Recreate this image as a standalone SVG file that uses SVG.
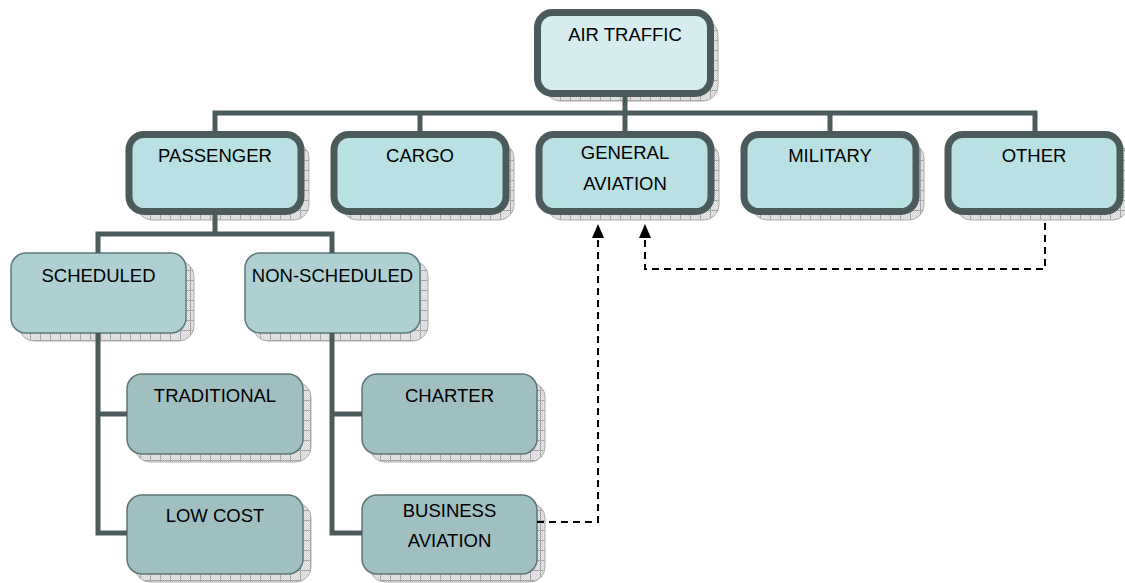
<svg xmlns="http://www.w3.org/2000/svg" width="1125" height="583" viewBox="0 0 1125 583">
  <defs>
    <!-- dithered grey shadow with a light grid -->
    <pattern id="shadowGrid" width="10" height="10" patternUnits="userSpaceOnUse">
      <rect width="10" height="10" fill="#d2d2d2"/>
      <path d="M0 0h1v1h-1zM2 0h1v1h-1zM4 0h1v1h-1zM6 0h1v1h-1zM8 0h1v1h-1zM1 1h1v1h-1zM3 1h1v1h-1zM5 1h1v1h-1zM7 1h1v1h-1zM9 1h1v1h-1z" fill="#ececec"/>
      <path d="M0 2h1v1h-1zM2 2h1v1h-1zM4 2h1v1h-1zM6 2h1v1h-1zM8 2h1v1h-1zM1 3h1v1h-1zM3 3h1v1h-1zM5 3h1v1h-1zM7 3h1v1h-1zM9 3h1v1h-1z" fill="#ececec"/>
      <path d="M0 4h1v1h-1zM2 4h1v1h-1zM4 4h1v1h-1zM6 4h1v1h-1zM8 4h1v1h-1zM1 5h1v1h-1zM3 5h1v1h-1zM5 5h1v1h-1zM7 5h1v1h-1zM9 5h1v1h-1z" fill="#ececec"/>
      <path d="M0 6h1v1h-1zM2 6h1v1h-1zM4 6h1v1h-1zM6 6h1v1h-1zM8 6h1v1h-1zM1 7h1v1h-1zM3 7h1v1h-1zM5 7h1v1h-1zM7 7h1v1h-1zM9 7h1v1h-1z" fill="#ececec"/>
      <path d="M0 8h1v1h-1zM2 8h1v1h-1zM4 8h1v1h-1zM6 8h1v1h-1zM8 8h1v1h-1zM1 9h1v1h-1zM3 9h1v1h-1zM5 9h1v1h-1zM7 9h1v1h-1zM9 9h1v1h-1z" fill="#ececec"/>
      <path d="M0 0.5H10M0.5 0V10" stroke="#a4a4a4" stroke-width="1"/>
    </pattern>
    <!-- solid arrowhead, tip on the end of the path -->
    <marker id="arrowHead" viewBox="0 0 14 12" refX="14" refY="6" markerWidth="14" markerHeight="12" markerUnits="userSpaceOnUse" orient="auto">
      <path d="M0 0L14 6L0 12Z" fill="#000"/>
    </marker>
    <style>
      .shadow { fill: url(#shadowGrid); stroke: #acacac; stroke-width: 1; }
      .top { fill: #d7ecee; stroke: #4b5a5a; stroke-width: 7; }
      .lvl1 { fill: #b9e0e3; stroke: #4b5a5a; stroke-width: 7; }
      .lvl2 { fill: #aed0d3; stroke: #5d7a7b; stroke-width: 1.5; }
      .lvl3 { fill: #a0bfc1; stroke: #5d7576; stroke-width: 1.5; }
      .link { fill: none; stroke: #4b5a5a; stroke-width: 5; stroke-linejoin: miter; stroke-linecap: butt; }
      .ref { fill: none; stroke: #000; stroke-width: 2; stroke-dasharray: 7 5; }
      text { font-family: "Liberation Sans", Arial, sans-serif; font-size: 18.5px; fill: #000; text-anchor: middle; }
    </style>
  </defs>

  <rect width="1125" height="583" fill="#fff"/>

  <g id="air-traffic">
    <rect class="shadow" x="545" y="20" width="173" height="81" rx="15"/>
    <rect class="top" x="537.5" y="12.5" width="173" height="81" rx="15"/>
    <text x="625" y="41">AIR TRAFFIC</text>
  </g>

  <g id="passenger">
    <rect class="shadow" x="137" y="143" width="172" height="77" rx="15"/>
    <rect class="lvl1" x="129" y="134.5" width="172" height="77" rx="15"/>
    <text x="215" y="162">PASSENGER</text>
  </g>

  <g id="cargo">
    <rect class="shadow" x="342" y="143" width="172" height="77" rx="15"/>
    <rect class="lvl1" x="334" y="134.5" width="172" height="77" rx="15"/>
    <text x="420" y="162">CARGO</text>
  </g>

  <g id="general-aviation">
    <rect class="shadow" x="547" y="143" width="172" height="77" rx="15"/>
    <rect class="lvl1" x="539" y="134.5" width="172" height="77" rx="15"/>
    <text x="625" y="159">GENERAL</text>
    <text x="625" y="190">AVIATION</text>
  </g>

  <g id="military">
    <rect class="shadow" x="752" y="143" width="172" height="77" rx="15"/>
    <rect class="lvl1" x="744" y="134.5" width="172" height="77" rx="15"/>
    <text x="830" y="162">MILITARY</text>
  </g>

  <g id="other">
    <rect class="shadow" x="956" y="143" width="172" height="77" rx="15"/>
    <rect class="lvl1" x="948" y="134.5" width="172" height="77" rx="15"/>
    <text x="1034" y="162">OTHER</text>
  </g>

  <g id="scheduled">
    <rect class="shadow" x="19" y="261" width="175" height="80" rx="15"/>
    <rect class="lvl2" x="11" y="253" width="175" height="80" rx="15"/>
    <text x="98.5" y="282">SCHEDULED</text>
  </g>

  <g id="non-scheduled">
    <rect class="shadow" x="253" y="261" width="175" height="80" rx="15"/>
    <rect class="lvl2" x="245" y="253" width="175" height="80" rx="15"/>
    <text x="332.5" y="282">NON-SCHEDULED</text>
  </g>

  <g id="traditional">
    <rect class="shadow" x="135" y="382" width="176" height="80" rx="15"/>
    <rect class="lvl3" x="127" y="374" width="176" height="80" rx="15"/>
    <text x="215" y="402">TRADITIONAL</text>
  </g>

  <g id="low-cost">
    <rect class="shadow" x="135" y="503" width="176" height="79" rx="15"/>
    <rect class="lvl3" x="127" y="495" width="176" height="79" rx="15"/>
    <text x="215" y="522">LOW COST</text>
  </g>

  <g id="charter">
    <rect class="shadow" x="370" y="382" width="175" height="80" rx="15"/>
    <rect class="lvl3" x="362" y="374" width="175" height="80" rx="15"/>
    <text x="449.5" y="402">CHARTER</text>
  </g>

  <g id="business-aviation">
    <rect class="shadow" x="370" y="503" width="175" height="79" rx="15"/>
    <rect class="lvl3" x="362" y="495" width="175" height="79" rx="15"/>
    <text x="449.5" y="517">BUSINESS</text>
    <text x="449.5" y="547">AVIATION</text>
  </g>

  <!-- tree connectors, drawn over the drop shadows -->
  <g id="connectors">
    <path class="link" d="M625 97V113"/>
    <path class="link" d="M215 131V113H1035V131"/>
    <path class="link" d="M420 113V131"/>
    <path class="link" d="M625 113V131"/>
    <path class="link" d="M830 113V131"/>
    <path class="link" d="M215 215V234"/>
    <path class="link" d="M98 253V234H332V253"/>
    <path class="link" d="M98 333V533H127"/>
    <path class="link" d="M98 414H127"/>
    <path class="link" d="M332 333V533H362"/>
    <path class="link" d="M332 414H362"/>
    <!-- dashed cross references into general aviation -->
    <path class="ref" d="M537 522H598V224" marker-end="url(#arrowHead)"/>
    <path class="ref" d="M1045 223V269H645V224" marker-end="url(#arrowHead)"/>
  </g>
</svg>
